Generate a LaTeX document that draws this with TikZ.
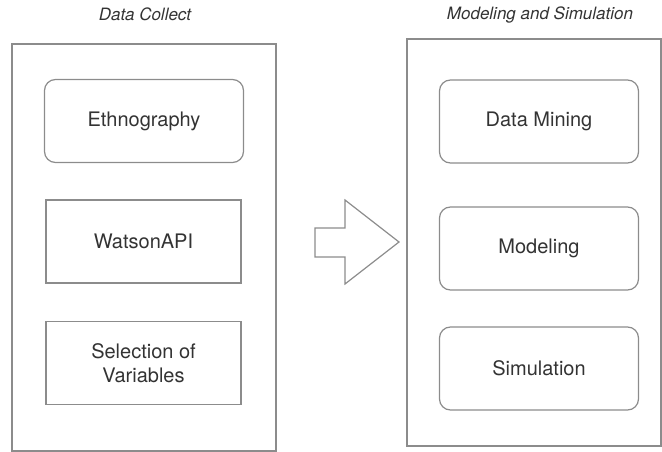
\documentclass[tikz,border=0pt]{standalone}
\usepackage{fontspec}
\setmainfont{TeX Gyre Heros}
\usetikzlibrary{calc}

\definecolor{linegray}{HTML}{8C8C8C}
\definecolor{textgray}{HTML}{333333}

\begin{document}
\begin{tikzpicture}[x=1pt,y=-1pt,
    frame/.style={draw=linegray,line width=1.2pt,minimum width=#1,minimum height=407pt,inner sep=0pt},
    item/.style={draw=linegray,line width=1.2pt,minimum width=195pt,minimum height=83pt,
      text=textgray,font=\fontsize{20}{24}\selectfont,align=center,inner sep=0pt},
    rounditem/.style={item,rounded corners=11pt,minimum width=199pt},
    title/.style={text=textgray,font=\fontsize{17}{20}\selectfont\itshape}]
    \path[use as bounding box] (0,0) rectangle (662,452);
    % Frames.
    \node[frame=264pt] (collect) at (144,247.5) {};
    \node[frame=254pt] (modsim) at (534,242.5) {};
    \node[title] (collecttitle) at (145,14) {Data Collect};
    \node[title] (modsimtitle) at (540,15) {Modeling and Simulation};
    % Left column.
    \node[rounditem] (ethno) at (144,121) {Ethnography};
    \node[item] (watson) at (143.5,241.5) {WatsonAPI};
    \node[item] (select) at (143.5,363) {Selection of\\Variables};
    % Right column.
    \foreach \n/\y/\t in {mining/121.5/Data Mining, modeling/248.5/Modeling, simulation/368.5/Simulation}
      \node[rounditem] (\n) at (539,\y) {\t};
    % Arrow.
    \draw[linegray,line width=1.2pt,line join=miter] (315,228) -- (345,228) -- (345,200) -- (399,242)
      -- (345,284) -- (345,257) -- (315,257) -- cycle;
\end{tikzpicture}
\end{document}
